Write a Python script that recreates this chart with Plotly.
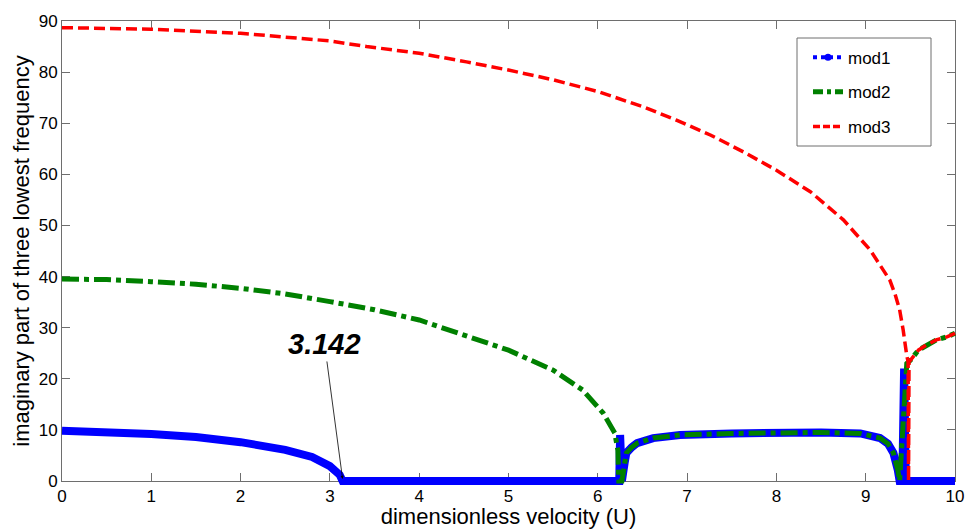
import plotly.graph_objects as go

# ---- data ----
mod1_x = [0, 0.5, 1, 1.5, 2, 2.5, 2.8, 3.0, 3.11, 3.142, 6.24, 6.25, 6.26, 6.27,
          6.30, 6.32, 6.38, 6.44, 6.62, 6.92, 7.5, 8.0, 8.5, 8.94, 9.16, 9.25, 9.31,
          9.36, 9.38, 9.41, 9.43, 9.45, 10]
mod1_y = [9.85, 9.7, 9.2, 8.6, 7.6, 6.1, 4.7, 2.9, 1.2, 0, 0, 9.0, 0, 0,
          3.5, 5.5, 6.6, 7.4, 8.4, 9.0, 9.3, 9.5, 9.5, 9.3, 8.4, 7.3, 5.5,
          2.1, 0, 0, 22, 0, 0]

mod2_x = [0, 0.5, 1, 1.5, 2, 2.5, 3, 3.5, 4, 4.5, 5, 5.5, 5.83, 6.06, 6.19, 6.225,
          6.235, 6.27, 6.30, 6.32, 6.38, 6.44, 6.62, 6.92, 7.5, 8.0, 8.5, 8.94,
          9.16, 9.25, 9.31, 9.36, 9.38, 9.46, 9.50, 9.59, 9.68, 9.79, 9.91, 10]
mod2_y = [39.5, 39.4, 39.0, 38.5, 37.7, 36.6, 35.1, 33.5, 31.5, 28.6, 25.6, 21.7,
          17.8, 13.3, 9.4, 6.0, 0, 0, 3.5, 5.5, 6.6, 7.4, 8.4, 9.0, 9.3, 9.5, 9.5,
          9.3, 8.4, 7.3, 5.5, 2.1, 0, 23.0, 23.6, 25.6, 26.6, 27.6, 28.2, 28.9]

mod3_x = [0, 1, 2, 2.665, 3.0, 3.41, 4.0, 4.53, 5.0, 5.5, 6.0, 6.51, 6.88, 7.26,
          7.63, 8.0, 8.38, 8.75, 9.05, 9.27, 9.33, 9.38, 9.42, 9.46, 9.475, 9.48,
          9.485, 9.50, 9.59, 9.68, 9.79, 9.91, 10]
mod3_y = [88.7, 88.4, 87.6, 86.6, 86.1, 85.0, 83.7, 82.0, 80.4, 78.5, 76.2, 73.2,
          70.6, 67.7, 64.4, 60.8, 56.6, 51.1, 45.2, 39.3, 36.5, 33.5, 29.5, 24.5,
          23.3, 0, 23.3, 23.6, 25.6, 26.6, 27.6, 28.2, 28.9]

x_ticks = [0, 1, 2, 3, 4, 5, 6, 7, 8, 9, 10]
y_ticks = [0, 10, 20, 30, 40, 50, 60, 70, 80, 90]
x_range = [0, 10]
y_range = [0, 90]
series_names = ["mod1", "mod2", "mod3"]

BLUE = "#0000FF"
GREEN = "#008000"
RED = "#FF0000"
FONT = "Liberation Sans, Arial, sans-serif"

# figure geometry: visible axes sit inside a slightly larger (hidden) data subplot
# so that thick lines on the axes are not clipped
W, H = 968, 529
L, R, T, B = 52, 3, 11, 38
PAD = 10
pw, ph = W - L - R, H - T - B
xdom = [PAD / pw, 1 - PAD / pw]
ydom = [PAD / ph, 1 - PAD / ph]
dx = (x_range[1] - x_range[0]) * PAD / (pw - 2 * PAD)
dy = (y_range[1] - y_range[0]) * PAD / (ph - 2 * PAD)
x2_range = [x_range[0] - dx, x_range[1] + dx]
y2_range = [y_range[0] - dy, y_range[1] + dy]

fig = go.Figure()

# data traces (on hidden, slightly extended axes)
fig.add_trace(go.Scatter(x=mod1_x, y=mod1_y, mode="lines", showlegend=False,
                         xaxis="x2", yaxis="y2",
                         line=dict(color=BLUE, width=8)))
fig.add_trace(go.Scatter(x=mod2_x, y=mod2_y, mode="lines", showlegend=False,
                         xaxis="x2", yaxis="y2",
                         line=dict(color=GREEN, width=5, dash="17px,5px,5px,5px")))
fig.add_trace(go.Scatter(x=mod3_x, y=mod3_y, mode="lines", showlegend=False,
                         xaxis="x2", yaxis="y2",
                         line=dict(color=RED, width=3.5, dash="11px,5px")))

# legend entries
fig.add_trace(go.Scatter(x=[None], y=[None], mode="lines+markers", name=series_names[0],
                         legendgroup="a",
                         line=dict(color=BLUE, width=4, dash="dot"),
                         marker=dict(color=BLUE, size=7)))
fig.add_trace(go.Scatter(x=[None], y=[None], mode="lines", name=series_names[1],
                         legendgroup="b",
                         line=dict(color=GREEN, width=5, dash="10px,4px,4px,4px")))
fig.add_trace(go.Scatter(x=[None], y=[None], mode="lines", name=series_names[2],
                         legendgroup="c",
                         line=dict(color=RED, width=3.5, dash="7px,3px")))

axis_common = dict(
    showgrid=False, zeroline=False, showline=True, linecolor="#6e6e6e", linewidth=1,
    mirror="ticks", ticks="inside", ticklen=8, tickcolor="#6e6e6e", tickwidth=1,
    tickfont=dict(family=FONT, size=17, color="black"), automargin=False,
)

fig.update_layout(
    xaxis=dict(domain=xdom, anchor="y", range=x_range, tickvals=x_ticks,
               ticktext=[str(v) for v in x_ticks],
               title=dict(text="dimensionless velocity (U)", standoff=3,
                          font=dict(family=FONT, size=22, color="black")),
               **axis_common),
    yaxis=dict(domain=ydom, anchor="x", range=y_range, tickvals=y_ticks,
               ticktext=[str(v) for v in y_ticks],
               title=dict(text="imaginary part of three lowest frequency", standoff=2,
                          font=dict(family=FONT, size=22, color="black")),
               **axis_common),
    xaxis2=dict(domain=[0, 1], anchor="y2", range=x2_range, visible=False,
                showgrid=False, zeroline=False),
    yaxis2=dict(domain=[0, 1], anchor="x2", range=y2_range, visible=False,
                showgrid=False, zeroline=False),
)

fig.add_annotation(x=3.142, y=0.4, xref="x", yref="y", text="<b><i>3.142</i></b>",
                   showarrow=True, arrowhead=2, arrowsize=0.8, arrowwidth=0.8,
                   arrowcolor="black", ax=-18, ay=-135,
                   font=dict(family=FONT, size=29, color="black"))

# legend box (paper coords of the full data area)
fig.add_shape(type="rect", xref="paper", yref="paper",
              x0=(797 - L) / pw, x1=(931 - L) / pw,
              y0=(H - B - 146) / ph, y1=(H - B - 38) / ph,
              line=dict(color="#6e6e6e", width=1),
              fillcolor="white", layer="above")

fig.update_layout(
    width=W, height=H,
    margin=dict(l=L, r=R, t=T, b=B),
    paper_bgcolor="white", plot_bgcolor="rgba(0,0,0,0)",
    font=dict(family=FONT, color="black"),
    legend=dict(x=(808 - L) / pw, y=(H - B - 39.7) / ph, xanchor="left", yanchor="top",
                bgcolor="rgba(0,0,0,0)", borderwidth=0,
                font=dict(family=FONT, size=17, color="black"),
                tracegroupgap=9.5, traceorder="grouped"),
)

fig.write_html("out.html")
